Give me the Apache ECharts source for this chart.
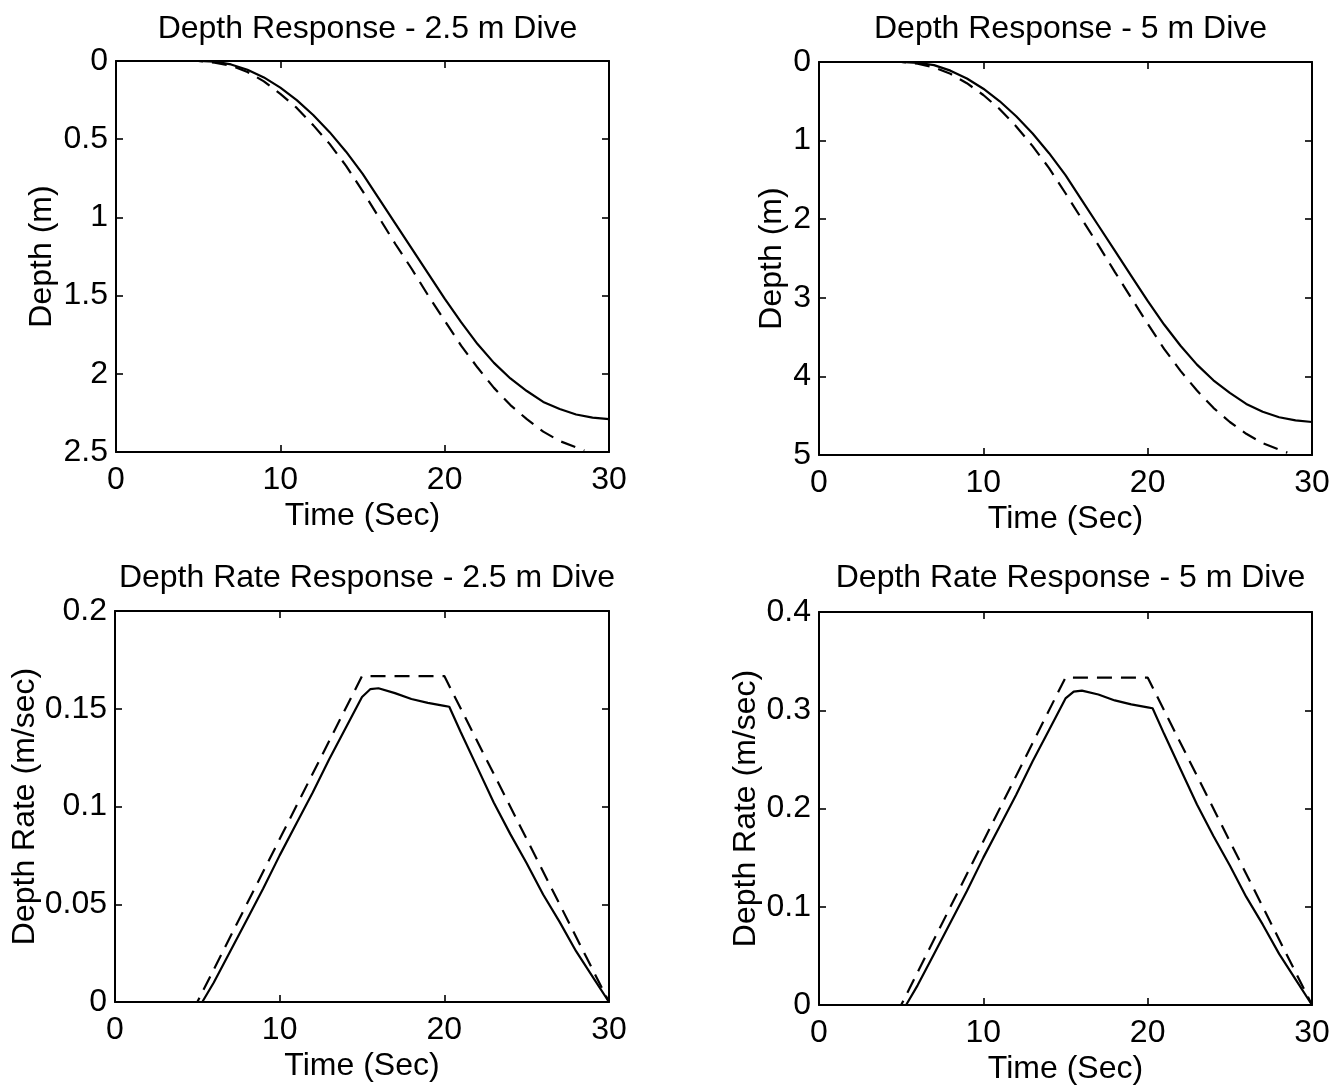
<!DOCTYPE html>
<html><head><meta charset="utf-8">
<script src="https://cdn.jsdelivr.net/npm/echarts@6/dist/echarts.min.js"></script>
<style>html,body{margin:0;padding:0;background:#fff}#c{width:1343px;height:1086px}</style>
</head><body><div id="c"></div>
<script>
// ---------- data ----------
const titles = ['Depth Response - 2.5 m Dive','Depth Response - 5 m Dive','Depth Rate Response - 2.5 m Dive','Depth Rate Response - 5 m Dive'];
const xTicks = [0,10,20,30];
const yTicksDepth25 = [0,0.5,1,1.5,2,2.5];
const yTicksDepth5 = [0,1,2,3,4,5];
const yTicksRate25 = [0,0.05,0.1,0.15,0.2];
const yTicksRate5 = [0,0.1,0.2,0.3,0.4];

// depth responses
const tDepthActual = [0,1,2,3,4,5,6,7,8,9,10,11,12,13,14,15,16,17,18,19,20,21,22,23,24,25,26,27,28,29,30];
const depth25Actual = [0,0,0,0,0,0,0.004,0.022,0.056,0.105,0.17,0.25,0.345,0.455,0.58,0.72,0.88,1.04,1.2,1.36,1.52,1.67,1.81,1.93,2.03,2.11,2.18,2.225,2.26,2.28,2.29];
const depth5Actual = [0,0,0,0,0,0,0.01,0.04,0.11,0.21,0.34,0.5,0.69,0.91,1.16,1.44,1.76,2.08,2.4,2.72,3.04,3.34,3.61,3.85,4.05,4.21,4.35,4.45,4.52,4.56,4.58];
const tDepthCommand = [0,1,2,3,4,5,6,7,8,9,10,11,12,13,14,15,16,17,18,19,20,21,22,23,24,25,26,27,28,28.5];
const depth25Command = [0,0,0,0,0,0,0.01,0.03,0.07,0.13,0.21,0.3,0.41,0.53,0.67,0.83,1.0,1.17,1.33,1.5,1.66,1.82,1.96,2.09,2.2,2.29,2.37,2.43,2.47,2.49];
const depth5Command = [0,0,0,0,0,0,0.02,0.07,0.15,0.27,0.42,0.6,0.82,1.07,1.35,1.67,2.0,2.33,2.67,3.0,3.33,3.65,3.93,4.18,4.4,4.58,4.73,4.85,4.93,4.97];

// depth rate responses
const tRateActual = [0,5.3,6,7,8,9,10,11,12,13,14,15,15.5,16,17,18,19,20,20.3,21,22,23,24,25,26,27,28,29,30];
const rate25Actual = [0,0,0.010,0.026,0.042,0.058,0.075,0.091,0.107,0.124,0.140,0.156,0.160,0.1605,0.158,0.155,0.153,0.1515,0.151,0.138,0.120,0.102,0.086,0.071,0.055,0.041,0.026,0.013,0];
const rate5Actual = [0,0,0.020,0.052,0.084,0.116,0.150,0.182,0.214,0.248,0.280,0.312,0.319,0.320,0.316,0.310,0.306,0.303,0.302,0.276,0.240,0.204,0.172,0.142,0.110,0.082,0.052,0.026,0];
const tRateCommand = [0,5,15,20,30];
const rate25Command = [0,0,0.1667,0.1667,0];
const rate5Command = [0,0,0.3333,0.3333,0];

// ---------- chart ----------
const FONT = 'Liberation Sans';
const grids = [
  {left:116, top:61, width:493, height:391},
  {left:819, top:62, width:493, height:393},
  {left:115, top:611, width:494, height:391},
  {left:819, top:612, width:493, height:393}
];
const yNames = ['Depth (m)','Depth (m)','Depth Rate (m/sec)','Depth Rate (m/sec)'];
const yNameGaps = [58,31,71,54];
const yTickSets = [yTicksDepth25,yTicksDepth5,yTicksRate25,yTicksRate5];
const yInverse = [true,true,false,false];
const titleTops = [8,8,557,557];

const lineCol = '#000';
const xAxes = [], yAxes = [];
function tickInterval(arr){return arr[1]-arr[0];}
grids.forEach((g,i)=>{
  const base = {
    type:'value', gridIndex:i, splitLine:{show:false},
    axisLine:{show:true, onZero:false, lineStyle:{color:lineCol, width:2}},
    axisTick:{show:true, inside:true, length:7, lineStyle:{color:lineCol, width:1.6}}
  };
  xAxes.push(Object.assign({}, base, {
    position:'bottom', min:xTicks[0], max:xTicks[xTicks.length-1], interval:tickInterval(xTicks),
    axisLabel:{color:'#000', fontFamily:FONT, fontSize:32, margin:12},
    name:'Time (Sec)', nameLocation:'middle', nameGap:48,
    nameTextStyle:{color:'#000', fontFamily:FONT, fontSize:32}
  }));
  xAxes.push(Object.assign({}, base, {
    position:'top', min:xTicks[0], max:xTicks[xTicks.length-1], interval:tickInterval(xTicks),
    axisLabel:{show:false}
  }));
  const yt = yTickSets[i];
  yAxes.push(Object.assign({}, base, {
    position:'left', inverse:yInverse[i], min:yt[0], max:yt[yt.length-1], interval:tickInterval(yt),
    axisLabel:{color:'#000', fontFamily:FONT, fontSize:32, margin:8},
    name:yNames[i], nameLocation:'middle', nameGap:yNameGaps[i],
    nameTextStyle:{color:'#000', fontFamily:FONT, fontSize:32}
  }));
  yAxes.push(Object.assign({}, base, {
    position:'right', inverse:yInverse[i], min:yt[0], max:yt[yt.length-1], interval:tickInterval(yt),
    axisLabel:{show:false}
  }));
});

function zip(t,v){return t.map((x,k)=>[x,v[k]]);}
function mk(i, t, v, dashed){
  return {type:'line', xAxisIndex:2*i, yAxisIndex:2*i, data:zip(t,v), showSymbol:false, symbol:'none',
    smooth:false, silent:true, animation:false,
    lineStyle:{color:lineCol, width:2.2, type: dashed ? [15,9] : 'solid'}};
}
const series = [
  mk(0,tDepthActual,depth25Actual,false), mk(0,tDepthCommand,depth25Command,true),
  mk(1,tDepthActual,depth5Actual,false), mk(1,tDepthCommand,depth5Command,true),
  mk(2,tRateActual,rate25Actual,false), mk(2,tRateCommand,rate25Command,true),
  mk(3,tRateActual,rate5Actual,false), mk(3,tRateCommand,rate5Command,true)
];

const chart = echarts.init(document.getElementById('c'), null, {renderer:'canvas'});
chart.setOption({
  animation:false,
  backgroundColor:'#fff',
  title: grids.map((g,i)=>({text:titles[i], left:g.left+g.width/2, top:titleTops[i], textAlign:'center',
    textStyle:{color:'#000', fontFamily:FONT, fontSize:32, fontWeight:'normal'}})),
  grid: grids.map(g=>Object.assign({containLabel:false}, g)),
  xAxis: xAxes, yAxis: yAxes, series: series
});
</script></body></html>
